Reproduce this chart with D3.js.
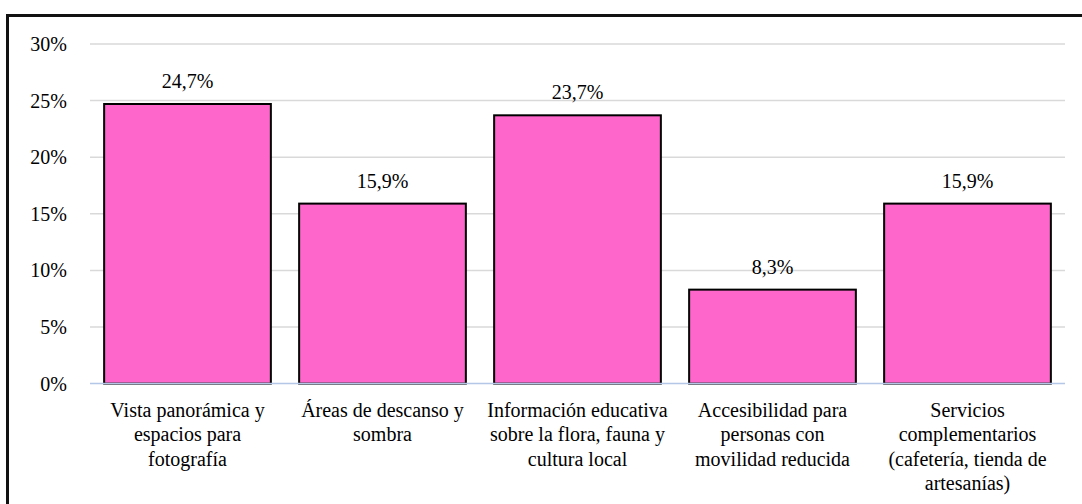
<!DOCTYPE html>
<html>
<head>
<meta charset="utf-8">
<script src="https://cdn.jsdelivr.net/npm/d3@7"></script>
<style>
  @font-face { font-family: "ChartSerif"; src: local("Liberation Serif"), local("LiberationSerif"), local("Times New Roman"); }
</style>
</head>
<body style="margin:0;background:#fff">
<svg id="chart" width="1082" height="504" style="display:block"></svg>
<script>
const categories = [
  "Vista panorámica y espacios para fotografía",
  "Áreas de descanso y sombra",
  "Información educativa sobre la flora, fauna y cultura local",
  "Accesibilidad para personas con movilidad reducida",
  "Servicios complementarios (cafetería, tienda de artesanías)"
];
const categoryLines = [
  ["Vista panorámica y", "espacios para", "fotografía"],
  ["Áreas de descanso y", "sombra"],
  ["Información educativa", "sobre la flora, fauna y", "cultura local"],
  ["Accesibilidad para", "personas con", "movilidad reducida"],
  ["Servicios", "complementarios", "(cafetería, tienda de", "artesanías)"]
];
const values = [24.7, 15.9, 23.7, 8.3, 15.9];
const yTicks = [0, 5, 10, 15, 20, 25, 30];

const FONT = "Liberation Serif";
const svg = d3.select("#chart");
const W = 1082, H = 504;
const margin = { left: 90, right: 1082 - 1065, top: 44, bottom: 504 - 383.6 };

const root = svg.append("g").attr("font-family", FONT).attr("font-size", 20);

// outer frame (extends beyond the viewport on right/bottom)
root.append("rect")
  .attr("x", 7.5).attr("y", 15.5)
  .attr("width", 1200).attr("height", 600)
  .attr("fill", "none").attr("stroke", "#111").attr("stroke-width", 3);

const x = d3.scaleBand()
  .domain(categories)
  .range([margin.left, W - margin.right])
  .paddingInner(0.145)
  .paddingOuter(0.0725);

const y = d3.scaleLinear()
  .domain([0, 30])
  .range([H - margin.bottom, margin.top]);

// gridlines
root.append("g")
  .selectAll("line")
  .data(yTicks.filter(t => t > 0))
  .join("line")
  .attr("x1", margin.left).attr("x2", W - margin.right)
  .attr("y1", d => y(d)).attr("y2", d => y(d))
  .attr("stroke", "#d9d9d9").attr("stroke-width", 1.5);

// y axis labels
const yAxis = d3.axisLeft(y).tickValues(yTicks).tickFormat(d => d + "%").tickSize(0).tickPadding(0);
const gy = root.append("g").attr("transform", `translate(67,0)`).call(yAxis);
gy.attr("font-family", FONT).attr("font-size", 20);
gy.select(".domain").remove();
gy.selectAll("text").attr("font-family", FONT).attr("fill", "#000");

// bars
root.append("g")
  .selectAll("rect")
  .data(values)
  .join("rect")
  .attr("x", (d, i) => x(categories[i]))
  .attr("width", x.bandwidth())
  .attr("y", d => y(d))
  .attr("height", d => y(0) - y(d))
  .attr("fill", "#FF66CC")
  .attr("stroke", "#000")
  .attr("stroke-width", 2);

// baseline axis
root.append("line")
  .attr("x1", margin.left).attr("x2", W - margin.right)
  .attr("y1", y(0)).attr("y2", y(0))
  .attr("stroke", "#b4c7e7").attr("stroke-width", 1.5);

// data labels
root.append("g")
  .selectAll("text")
  .data(values)
  .join("text")
  .attr("x", (d, i) => x(categories[i]) + x.bandwidth() / 2)
  .attr("y", d => y(d) - 16)
  .attr("text-anchor", "middle")
  .attr("font-family", FONT).attr("fill", "#000")
  .text(d => d.toFixed(1).replace(".", ",") + "%");

// category labels
const xAxis = d3.axisBottom(x).tickSize(0).tickPadding(0).tickFormat(() => "");
const gx = root.append("g").attr("transform", `translate(0,${y(0)})`).call(xAxis);
gx.attr("font-family", FONT).attr("font-size", 20);
gx.select(".domain").remove();
gx.selectAll(".tick text").each(function(d, i) {
  const t = d3.select(this)
    .attr("font-family", FONT).attr("fill", "#000")
    .attr("dy", null).attr("y", 0);
  categoryLines[i].forEach((line, j) => {
    t.append("tspan").attr("x", 0).attr("y", 33 + j * 24.5).text(line);
  });
});
</script>
</body>
</html>
